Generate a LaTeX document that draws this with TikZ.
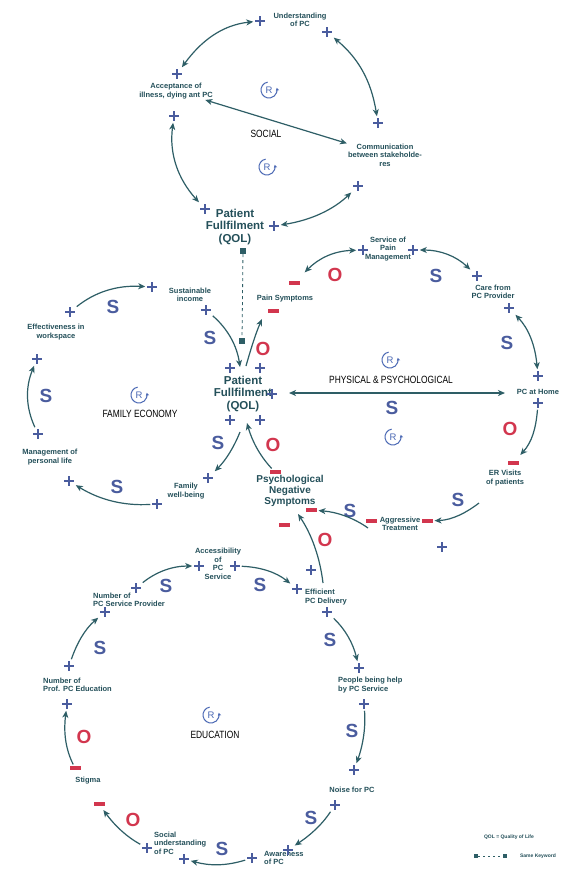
\documentclass[tikz,border=0pt]{standalone}
\usepackage{fontspec}
\setmainfont{Liberation Sans}
\newfontfamily\narrowsf{Liberation Sans}[FakeStretch=0.8]
\usetikzlibrary{arrows.meta}
\definecolor{txt}{HTML}{24505A}
\definecolor{lnkc}{HTML}{2E5E66}
\definecolor{plc}{HTML}{4A5C9E}
\definecolor{redc}{HTML}{D2364E}
\definecolor{rc}{HTML}{4A68B4}
\newcommand\rmark[2]{\node[font=\fontsize{9.5}{9.5}\selectfont, text=rc, inner sep=0pt] (#1) at (#2) {R};
  \draw[rc, line width=1pt, -{Stealth[length=3pt,width=3.5pt]}] (#1.center) ++(-100:8) arc[start angle=-100, end angle=-375, radius=8];}
\begin{document}
\begin{tikzpicture}[x=1pt,y=-1pt,
  lab/.style={font=\fontsize{7.5}{8.5}\selectfont\bfseries, text=txt, align=center, inner sep=1pt},
  big/.style={font=\fontsize{11.5}{12.5}\selectfont\bfseries, text=txt, align=center, inner sep=1pt},
  psy/.style={font=\fontsize{10}{11}\selectfont\bfseries, text=txt, align=center, inner sep=1pt},
  ttl/.style={font=\narrowsf\fontsize{10.5}{12}\selectfont, text=black, inner sep=0pt},
  pl/.style={minimum size=10.5pt, inner sep=0pt, outer sep=1.5pt, path picture={
    \fill[plc] ([xshift=-5.2pt,yshift=-1.25pt]path picture bounding box.center) rectangle ([xshift=5.2pt,yshift=1.25pt]path picture bounding box.center);
    \fill[plc] ([xshift=-1.25pt,yshift=-5.2pt]path picture bounding box.center) rectangle ([xshift=1.25pt,yshift=5.2pt]path picture bounding box.center);}},
  mn/.style={fill=redc, minimum width=11pt, minimum height=3.2pt, inner sep=0pt, outer sep=2pt},
  sl/.style={font=\fontsize{19}{19}\selectfont\bfseries, text=plc, inner sep=0pt},
  ol/.style={font=\fontsize{19}{19}\selectfont\bfseries, text=redc, inner sep=0pt},
  lnk/.style={lnkc, line width=1.2pt, -{Stealth[length=7pt,width=6pt,inset=2pt]}},
  dbl/.style={lnk, {Stealth[length=7pt,width=6pt,inset=2pt]}-{Stealth[length=7pt,width=6pt,inset=2pt]}},
  sq/.style={fill=lnkc, minimum size=6pt, inner sep=0pt}]
\fill[white] (0,0) rectangle (569,871);
\useasboundingbox (0,0) rectangle (569,871);

\node[lab] (und) at (300,20) {Understanding\\of PC};
\node[lab] (acc) at (176,91) {Acceptance of\\illness, dying ant PC};
\node[big] (pft) at (235,227) {Patient\\Fullfilment\\(QOL)};
\node[lab] (com) at (385,155) {Communication\\between stakeholde-\\res};
\node[lab] (sus) at (190,295) {Sustainable\\income};
\node[big] (pfm) at (243,394) {Patient\\Fullfilment\\(QOL)};
\node[lab] (pain) at (285,299) {Pain Symptoms};
\node[lab] (fam) at (186,491) {Family\\well-being};
\node[lab] (mgt) at (50,457) {Management of\\personal life};
\node[lab] (eff) at (56,332) {Effectiveness in\\workspace};
\node[lab] (spm) at (388,249) {Service of\\Pain\\Management};
\node[lab] (care) at (493,292) {Care from\\PC Provider};
\node[lab] (home) at (538,392) {PC at Home};
\node[lab] (er) at (505,478) {ER Visits\\of patients};
\node[lab] (agg) at (400,524) {Aggressive\\Treatment};
\node[psy] (psy) at (290,491) {Psychological\\Negative\\Symptoms};
\node[lab] (acs) at (218,564) {Accessibility\\of\\PC\\Service};
\node[lab, anchor=west, align=left] (effd) at (304,597) {Efficient\\PC Delivery};
\node[lab, anchor=west, align=left] (ppl) at (337,685) {People being help\\by PC Service};
\node[lab] (noise) at (352,790) {Noise for PC};
\node[lab, anchor=west, align=left] (awa) at (263,858) {Awareness\\of PC};
\node[lab, anchor=west, align=left] (soc) at (153,843) {Social\\understanding\\of PC};
\node[lab] (stig) at (88,781) {Stigma};
\node[lab, anchor=west, align=left] (npe) at (42,685) {Number of\\Prof. PC Education};
\node[lab, anchor=west, align=left] (nsp) at (92,600) {Number of\\PC Service Provider};

\node[ttl] (tsoc) at (266,134) {SOCIAL};
\node[ttl] (tfam) at (140,414) {FAMILY ECONOMY};
\node[ttl] (tphy) at (391,380) {PHYSICAL \& PSYCHOLOGICAL};
\node[ttl] (tedu) at (215,735) {EDUCATION};
\rmark{rsoc1}{269,90}
\rmark{rsoc2}{267,167}
\rmark{rfam}{139,395}
\rmark{rphy1}{390,360}
\rmark{rphy2}{393,437}
\rmark{redu}{211,715}

\foreach \n/\x/\y in {und1/260/21, und2/327/32, acc1/177/74, acc2/174/116, pft1/205/209, pft2/274/226,
  com1/378/123, com2/358/186, sus1/152/287, sus2/206/310, pfm1/230/368, pfm2/260/368, pfm3/272/394,
  pfm4/230/420, pfm5/260/420, fam1/208/478, fam2/157/504, mgt1/69/481, mgt2/38/434, eff1/37/359,
  eff2/70/312, spm1/363/250, spm2/413/250, care1/477/276, care2/509/308, home1/538/376, home2/538/403,
  agg3/442/547, acs1/199/566, acs2/235/566, effd1/297/589, effd2/327/612, effd3/311/570, ppl1/359/668,
  ppl2/364/704, noise1/354/770, noise2/335/805, awa1/288/850, awa2/252/858, soc1/147/848, soc2/184/859,
  npe1/67/704, npe2/69/666, nsp1/105/612, nsp2/136/588}
  \node[pl] (\n) at (\x,\y) {};
\foreach \n/\x/\y in {pain1/294/283, pain2/273/311, psy1/275/472, psy2/311/510, psy3/284/525,
  agg1/371/521, agg2/427/521, er1/513/463, stig1/99/804, stig2/75/768}
  \node[mn] (\n) at (\x,\y) {};
\foreach \x/\y [count=\i] in {113/307, 210/338, 46/396, 117/487, 218/443, 436/276, 507/343, 458/500,
  350/511, 392/408, 166/586, 260/585, 330/640, 352/731, 311/818, 222/849, 100/648}
  \node[sl] (s\i) at (\x,\y) {S};
\foreach \x/\y [count=\i] in {263/349, 273/445, 335/275, 510/429, 325/540, 133/820, 84/737}
  \node[ol] (o\i) at (\x,\y) {O};

\coordinate (pfm-in) at (240,367);
\coordinate (pfm-out) at (246,366);
\coordinate (pain-in) at (262,319);
\coordinate (pfm-bo) at (240,432);
\coordinate (pfm-bi) at (247,423);
\coordinate (hz-l) at (289,393);
\coordinate (hz-r) at (505,393);
\coordinate (er-out) at (479,503);
\coordinate (agg-out) at (368,528);
\coordinate (effd-out) at (323,583);
\coordinate (psy-in) at (298,514);

\draw[dbl] (und1) .. controls (222,25) and (201,41) .. (acc1);
\draw[dbl] (acc2) .. controls (169,154) and (178,179) .. (pft1);
\draw[dbl] (pft2) .. controls (312,220) and (334,209) .. (com2);
\draw[dbl] (und2) .. controls (358,58) and (371,80) .. (com1);
\draw[dbl] (acc) -- (com);
\draw[lnk] (sus2) .. controls (228,329) and (237,346) .. (pfm-in);
\draw[lnk] (pfm-out) .. controls (250,352) and (255,335) .. (pain-in);
\draw[lnk] (pfm-bo) .. controls (234,447) and (226,460) .. (fam1);
\draw[lnk] (psy1) .. controls (260,456) and (252,441) .. (pfm-bi);
\draw[lnk] (fam2) .. controls (124,506) and (100,500) .. (mgt1);
\draw[lnk] (mgt2) .. controls (26,408) and (25,388) .. (eff1);
\draw[lnk] (eff2) .. controls (95,292) and (117,285) .. (sus1);
\draw[dbl, shorten >=10pt] (spm1) .. controls (334,251) and (319,258) .. (pain1);
\draw[dbl] (spm2) .. controls (440,250) and (456,256) .. (care1);
\draw[dbl] (care2) .. controls (528,328) and (535,344) .. (home1);
\draw[lnk, shorten >=6pt] (home2) .. controls (536,428) and (532,442) .. (er1);
\draw[lnk] (er-out) .. controls (466,513) and (452,520) .. (agg2);
\draw[lnk] (agg-out) .. controls (354,518) and (337,512) .. (psy2);
\draw[lnk] (effd-out) .. controls (320,558) and (312,535) .. (psy-in);
\draw[dbl] (hz-l) -- (hz-r);
\draw[lnk] (acs2) .. controls (260,567) and (276,572) .. (effd1);
\draw[lnk] (effd2) .. controls (345,629) and (353,643) .. (ppl1);
\draw[lnk] (ppl2) .. controls (366,730) and (362,748) .. (noise1);
\draw[lnk] (noise2) .. controls (321,826) and (309,836) .. (awa1);
\draw[lnk] (awa2) .. controls (226,866) and (210,866) .. (soc2);
\draw[lnk, shorten >=3pt] (soc1) .. controls (127,837) and (115,826) .. (stig1);
\draw[lnk] (stig2) .. controls (64,746) and (64,728) .. (npe1);
\draw[lnk] (npe2) .. controls (77,643) and (85,629) .. (nsp1);
\draw[lnk] (nsp2) .. controls (156,572) and (172,566) .. (acs1);

\node[sq] (sq1) at (243,251) {};
\node[sq] (sq2) at (242,341) {};
\draw[lnkc, line width=0.8pt, dash pattern=on 3pt off 3pt] (sq1) -- (sq2);

\node[font=\fontsize{5}{6}\selectfont\bfseries, text=txt, inner sep=0pt] (lgq) at (509,837) {QOL = Quality of Life};
\node[sq, minimum size=4.5pt] (lg1) at (476,856) {};
\node[sq, minimum size=4.5pt] (lg2) at (505,856) {};
\draw[lnkc, line width=0.6pt, dash pattern=on 2pt off 3pt] (lg1) -- (lg2);
\node[font=\fontsize{5}{6}\selectfont\bfseries, text=txt, inner sep=0pt] (lgk) at (538,856) {Same Keyword};
\end{tikzpicture}
\end{document}
